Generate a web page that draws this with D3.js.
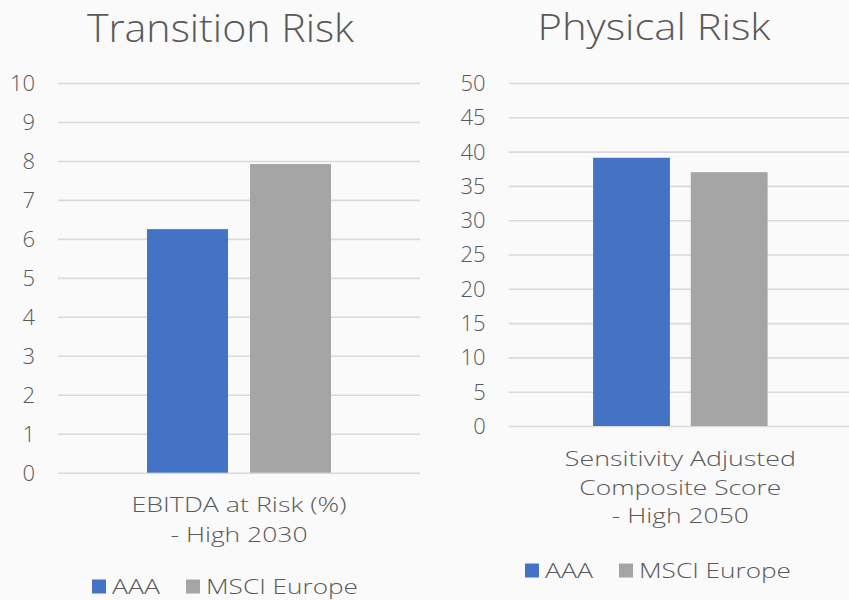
<!DOCTYPE html>
<html>
<head>
<meta charset="utf-8">
<script src="https://cdn.jsdelivr.net/npm/d3@7"></script>
<style>
  html, body { margin: 0; padding: 0; background: #fafafa; }
  svg { display: block; }
  text { font-family: "Open Sans", "Noto Sans", sans-serif; font-weight: 300; fill: #595959; }
</style>
</head>
<body>
<svg id="chart" width="849" height="600"></svg>
<script>
// ---- data ----
const seriesNames = ["AAA", "MSCI Europe"];
const seriesColors = ["#4472C4", "#A5A5A5"];

const transitionTitle = "Transition Risk";
const transitionCategory = ["EBITDA at Risk (%)", "- High 2030"];
const transitionValues = [6.25, 7.92];
const transitionTicks = [0, 1, 2, 3, 4, 5, 6, 7, 8, 9, 10];

const physicalTitle = "Physical Risk";
const physicalCategory = ["Sensitivity Adjusted", "Composite Score", "- High 2050"];
const physicalValues = [39.1, 37.0];
const physicalTicks = [0, 5, 10, 15, 20, 25, 30, 35, 40, 45, 50];

// ---- drawing ----
const svg = d3.select("#chart");

function drawPanel(cfg) {
  const g = svg.append("g");
  const maxTick = d3.max(cfg.ticks);
  const y = d3.scaleLinear().domain([0, maxTick]).range([cfg.y0, cfg.y1]);
  const catKey = cfg.category.join(" ");
  const x0 = d3.scaleBand().domain([catKey]).range([cfg.x0, cfg.x1])
    .paddingInner(0).paddingOuter(0.4837);
  const x1 = d3.scaleBand().domain(seriesNames).range([0, x0.bandwidth()])
    .paddingInner(0.2136).paddingOuter(0);

  // gridlines
  const axis = d3.axisLeft(y).tickValues(cfg.ticks).tickSize(-(cfg.gridEnd - cfg.x0)).tickPadding(0)
    .tickFormat(d3.format("d"));
  const ag = g.append("g").attr("transform", `translate(${cfg.x0},0)`).call(axis);
  ag.select(".domain").remove();
  ag.selectAll(".tick line").attr("stroke", "#d9d9d9").attr("stroke-width", 1.6);
  ag.selectAll(".tick text").remove();

  // tick labels
  g.selectAll(".ytl").data(cfg.ticks).join("text")
    .attr("class", "ytl")
    .attr("x", cfg.labelRight)
    .attr("y", d => y(d))
    .attr("dy", "0.36em")
    .attr("text-anchor", "end")
    .style("font-size", "22px")
    .text(d => d);

  // bars
  g.selectAll(".bar").data(cfg.values).join("rect")
    .attr("class", "bar")
    .attr("x", (d, i) => x0(catKey) + x1(seriesNames[i]))
    .attr("width", x1.bandwidth())
    .attr("y", d => y(d))
    .attr("height", d => y(0) - y(d))
    .attr("fill", (d, i) => seriesColors[i]);

  // title
  g.append("text")
    .attr("x", cfg.titleX).attr("y", cfg.titleY)
    .attr("text-anchor", "middle")
    .style("font-size", cfg.titleSize + "px")
    .attr("textLength", cfg.titleLen).attr("lengthAdjust", "spacingAndGlyphs")
    .text(cfg.title);

  // category label
  const cx = x0(catKey) + x0.bandwidth() / 2;
  g.selectAll(".cat").data(cfg.category).join("text")
    .attr("class", "cat")
    .attr("x", cx)
    .attr("y", (d, i) => cfg.catY + i * cfg.catStep)
    .attr("text-anchor", "middle")
    .style("font-size", "21px")
    .attr("textLength", (d, i) => cfg.catLens[i]).attr("lengthAdjust", "spacingAndGlyphs")
    .text(d => d);

  // legend
  const legendX = [cfg.legX, cfg.legX + 94];
  const lg = g.selectAll(".leg").data(seriesNames).join("g").attr("class", "leg");
  lg.append("rect")
    .attr("x", (d, i) => legendX[i])
    .attr("y", cfg.legY - 14)
    .attr("width", 14).attr("height", 14)
    .attr("fill", (d, i) => seriesColors[i]);
  lg.append("text")
    .attr("x", (d, i) => legendX[i] + 20)
    .attr("y", cfg.legY)
    .style("font-size", "21px")
    .attr("textLength", (d, i) => [48, 152][i]).attr("lengthAdjust", "spacingAndGlyphs")
    .text(d => d);
}

drawPanel({
  title: transitionTitle, titleX: 220.5, titleY: 41.7, titleSize: 39, titleLen: 267,
  category: transitionCategory, values: transitionValues, ticks: transitionTicks,
  x0: 58, x1: 420, gridEnd: 420, y0: 472.7, y1: 83, labelRight: 35,
  catY: 512.3, catStep: 29.4, catLens: [215, 137],
  legX: 92, legY: 593.5
});

drawPanel({
  title: physicalTitle, titleX: 654, titleY: 39.5, titleSize: 36, titleLen: 233,
  category: physicalCategory, values: physicalValues, ticks: physicalTicks,
  x0: 508.7, x1: 852, gridEnd: 852, y0: 426, y1: 83, labelRight: 485.7,
  catY: 466, catStep: 28.7, catLens: [231, 202, 137],
  legX: 525, legY: 577.5
});
</script>
</body>
</html>
